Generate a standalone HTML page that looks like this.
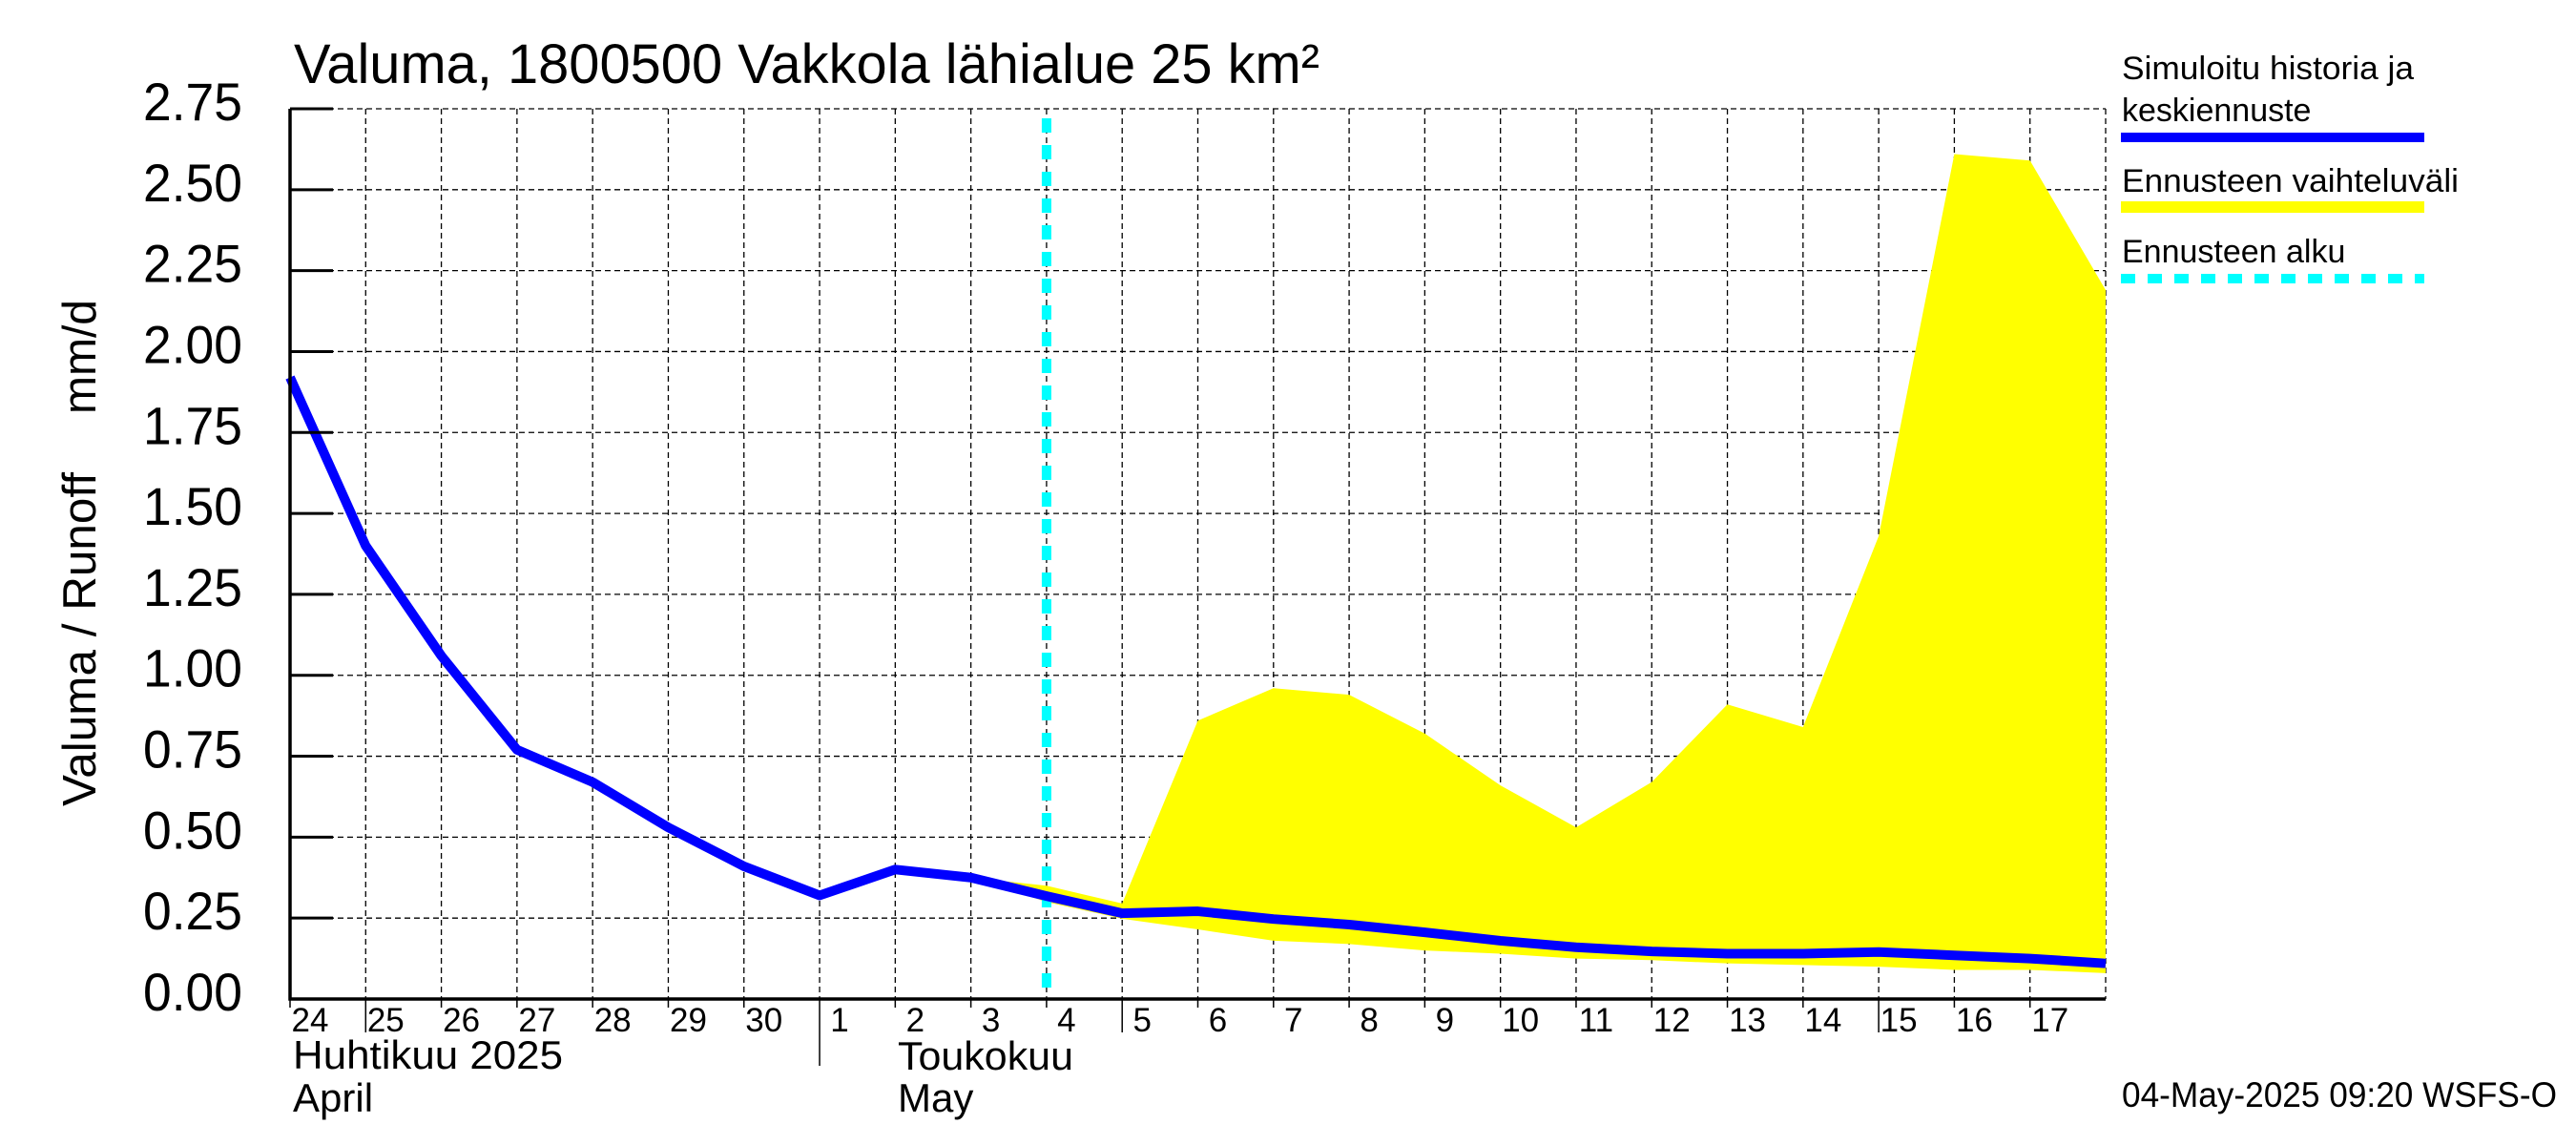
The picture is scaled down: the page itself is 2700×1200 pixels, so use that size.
<!DOCTYPE html>
<html><head><meta charset="utf-8"><style>
html,body{margin:0;padding:0;background:#fff;}
svg{display:block;font-family:"Liberation Sans",sans-serif;}
</style></head><body>
<svg id="chart" width="2700" height="1200" viewBox="0 0 2700 1200" xmlns="http://www.w3.org/2000/svg">
<rect x="0" y="0" width="2700" height="1200" fill="#fff"/>
<text x="308" y="87" font-size="58" textLength="1075" lengthAdjust="spacingAndGlyphs">Valuma, 1800500 Vakkola lähialue 25 km²</text>
<g id="grid"></g>
<g id="band"></g>
<g id="line"></g>
<g id="axes"></g>
<text transform="translate(100,845) rotate(-90)" font-size="49" textLength="350" lengthAdjust="spacingAndGlyphs">Valuma / Runoff</text>
<text transform="translate(100,434) rotate(-90)" font-size="49" textLength="120" lengthAdjust="spacingAndGlyphs">mm/d</text>
<text x="307" y="1120" font-size="42" textLength="283" lengthAdjust="spacingAndGlyphs">Huhtikuu  2025</text>
<text x="307" y="1165" font-size="42">April</text>
<text x="941" y="1121" font-size="42" textLength="184" lengthAdjust="spacingAndGlyphs">Toukokuu</text>
<text x="941" y="1165" font-size="42">May</text>
<g>
<text x="2224" y="83" font-size="34" textLength="306" lengthAdjust="spacingAndGlyphs">Simuloitu historia ja</text>
<text x="2224" y="127" font-size="34">keskiennuste</text>
<rect x="2223" y="139" width="318" height="10" fill="#0000ff"/>
<text x="2224" y="201" font-size="34" textLength="353" lengthAdjust="spacingAndGlyphs">Ennusteen vaihteluväli</text>
<rect x="2223" y="211" width="318" height="12" fill="#ffff00"/>
<text x="2224" y="275" font-size="34">Ennusteen alku</text>
<line x1="2223" y1="292" x2="2541" y2="292" stroke="#00ffff" stroke-width="10" stroke-dasharray="15 13"/>
</g>
<text x="2224" y="1160" font-size="37" textLength="456" lengthAdjust="spacingAndGlyphs">04-May-2025 09:20 WSFS-O</text>
</svg>
<script>
const dayLabels = ["24","25","26","27","28","29","30","1","2","3","4","5","6","7","8","9","10","11","12","13","14","15","16","17"];
const yTicks = [0,0.25,0.5,0.75,1,1.25,1.5,1.75,2,2.25,2.5,2.75];
const yTickLabels = ["0.00","0.25","0.50","0.75","1.00","1.25","1.50","1.75","2.00","2.25","2.50","2.75"];
const simValues = [1.92,1.40,1.06,0.77,0.67,0.53,0.41,0.32,0.40,0.375,0.318,0.265,0.271,0.247,0.23,0.206,0.18,0.16,0.147,0.14,0.14,0.145,0.135,0.125,0.11];
const bandStart = 9;
const bandUpper = [0.375,0.35,0.295,0.86,0.96,0.94,0.82,0.66,0.53,0.67,0.91,0.84,1.43,2.61,2.59,2.19];
const bandLower = [0.375,0.30,0.248,0.215,0.18,0.17,0.15,0.14,0.125,0.12,0.11,0.105,0.10,0.09,0.09,0.08];
const forecastStart = 10;
const longTickDays = [1,11,21];
const monthBoundary = 7;

const X0=304, X1=2207, Y0=1047, Y1=114, NDAYS=24, YMAX=2.75;
const NS="http://www.w3.org/2000/svg";
function xs(i){return X0+(X1-X0)*i/NDAYS;}
function ys(v){return Y0-(Y0-Y1)*v/YMAX;}
function mk(tag,attrs,parent){const e=document.createElementNS(NS,tag);for(const k in attrs)e.setAttribute(k,attrs[k]);parent.appendChild(e);return e;}
const grid=document.getElementById('grid'),band=document.getElementById('band'),line=document.getElementById('line'),axes=document.getElementById('axes');

yTicks.forEach((v,i)=>{
  const g=mk('line',{x1:X0,y1:ys(v),x2:X1,y2:ys(v),stroke:'#000','stroke-width':1.3,'stroke-dasharray':'6 4'},grid);
  
  
  const t=mk('line',{x1:X0,y1:ys(v),x2:X0+45,y2:ys(v),stroke:'#000','stroke-width':3},axes);
  
  
  const l=mk('text',{x:254,y:ys(v)+12,'font-size':56,'text-anchor':'end',textLength:104,lengthAdjust:'spacingAndGlyphs'},axes);
  l.textContent=yTickLabels[i];
  
  
});
for(let i=1;i<=NDAYS;i++){
  const g=mk('line',{x1:xs(i),y1:Y1,x2:xs(i),y2:Y0,stroke:'#000','stroke-width':1.3,'stroke-dasharray':'6 4'},grid);
  
  
}
dayLabels.forEach((d,i)=>{
  let y2=1056;
  if(longTickDays.includes(i)) y2=1082;
  if(i===monthBoundary) y2=1117;
  const t=mk('line',{x1:xs(i),y1:Y0,x2:xs(i),y2:y2,stroke:'#000','stroke-width':1.5},axes);
  
  
  const l=mk('text',{x:xs(i)+21,y:1081,'font-size':35,'text-anchor':'middle'},axes);
  l.textContent=d;
  
  
});

let pts=[];
bandUpper.forEach((v,k)=>pts.push(xs(bandStart+k)+','+ys(v)));
for(let k=bandLower.length-1;k>=0;k--) pts.push(xs(bandStart+k)+','+ys(bandLower[k]));
const poly=mk('polygon',{points:pts.join(' '),fill:'#ffff00'},band);



const cy=mk('line',{x1:xs(forecastStart),y1:Y1+10,x2:xs(forecastStart),y2:Y0,stroke:'#00ffff','stroke-width':10,'stroke-dasharray':'15 13'},line);



const pl=mk('polyline',{points:simValues.map((v,i)=>xs(i)+','+ys(v)).join(' '),fill:'none',stroke:'#0000ff','stroke-width':10,'stroke-linejoin':'round'},line);



const ax=mk('path',{d:`M${X0} ${Y1} L${X0} ${Y0} L${X1} ${Y0}`,fill:'none',stroke:'#000','stroke-width':3.5},axes);


</script>
</body></html>
